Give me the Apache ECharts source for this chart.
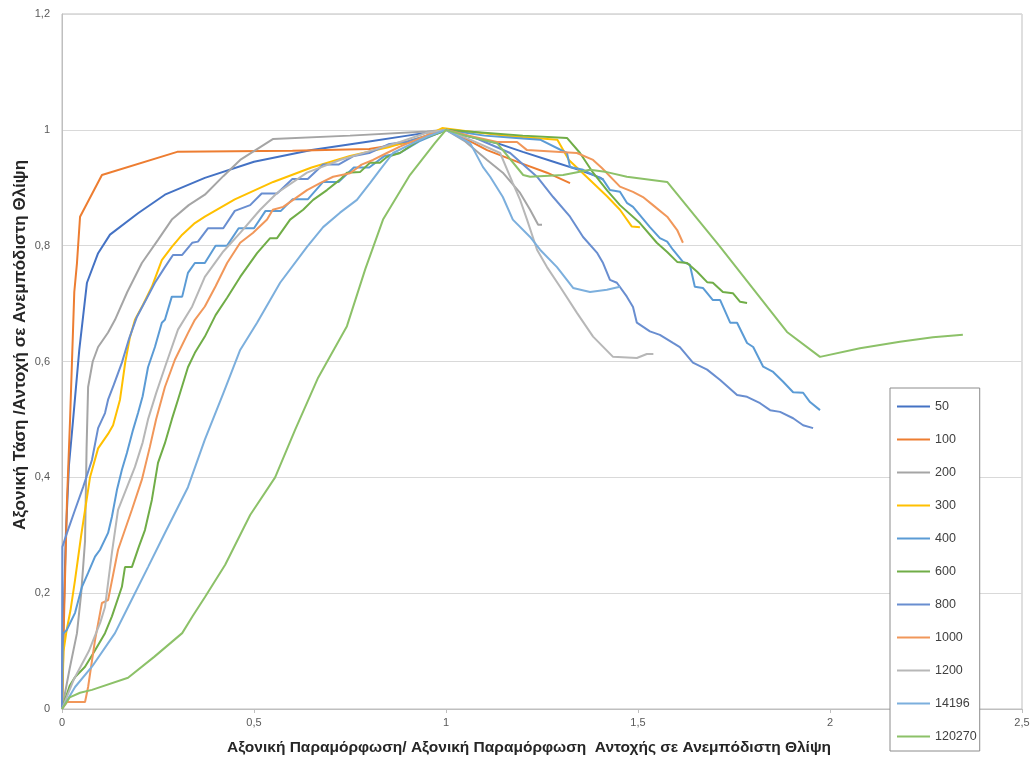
<!DOCTYPE html>
<html>
<head>
<meta charset="utf-8">
<script src="https://cdn.jsdelivr.net/npm/echarts@6/dist/echarts.min.js"></script>
<style>
html,body{margin:0;padding:0;background:#fff;}
#chart{width:1036px;height:764px;}
</style>
</head>
<body>
<div id="chart"></div>
<script>
// ---- Data (x = normalized axial strain, y = normalized axial stress) ----
const seriesNames = ['50','100','200','300','400','600','800','1000','1200','14196','120270'];
const xTicks = [0, 0.5, 1, 1.5, 2, 2.5];
const yTicks = [0, 0.2, 0.4, 0.6, 0.8, 1, 1.2];

const s50 = [[0,0],[0.004,0.15],[0.01,0.3],[0.018,0.42],[0.029,0.5],[0.045,0.62],[0.065,0.736],[0.094,0.787],[0.125,0.819],[0.198,0.856],[0.268,0.888],[0.372,0.917],[0.5,0.945],[0.65,0.965],[0.8,0.98],[0.9,0.99],[1.0,1.0],[1.05,0.99],[1.133,0.977],[1.2,0.962],[1.28,0.945],[1.35,0.93],[1.4,0.918],[1.41,0.914]];
const s100 = [[0,0],[0.005,0.15],[0.013,0.36],[0.021,0.5],[0.026,0.6],[0.032,0.72],[0.039,0.77],[0.047,0.85],[0.104,0.922],[0.3,0.962],[0.6,0.964],[0.8,0.967],[0.92,0.98],[1.0,1.0],[1.05,0.985],[1.107,0.965],[1.193,0.943],[1.263,0.926],[1.323,0.908]];
const s200 = [[0,0],[0.02,0.07],[0.039,0.131],[0.05,0.2],[0.06,0.29],[0.064,0.45],[0.068,0.556],[0.08,0.6],[0.094,0.625],[0.12,0.65],[0.138,0.672],[0.17,0.72],[0.208,0.77],[0.25,0.81],[0.286,0.845],[0.33,0.87],[0.372,0.888],[0.42,0.92],[0.464,0.948],[0.549,0.984],[0.75,0.99],[0.95,0.997],[1.0,1.0],[1.05,0.98],[1.107,0.948],[1.148,0.926],[1.193,0.891],[1.219,0.862],[1.24,0.836],[1.25,0.836]];
const s300 = [[0,0],[0.004,0.1],[0.012,0.136],[0.022,0.17],[0.034,0.223],[0.05,0.3],[0.073,0.4],[0.094,0.45],[0.12,0.475],[0.133,0.49],[0.151,0.534],[0.165,0.6],[0.177,0.642],[0.19,0.672],[0.211,0.698],[0.234,0.729],[0.26,0.775],[0.286,0.798],[0.313,0.819],[0.346,0.839],[0.372,0.85],[0.45,0.88],[0.55,0.91],[0.65,0.935],[0.75,0.955],[0.85,0.97],[0.95,0.99],[0.99,1.003],[1.05,0.998],[1.15,0.99],[1.29,0.983],[1.32,0.948],[1.366,0.919],[1.42,0.885],[1.453,0.862],[1.484,0.833],[1.505,0.832]];
const s400 = [[0,0],[0.002,0.13],[0.012,0.136],[0.034,0.166],[0.052,0.211],[0.068,0.235],[0.086,0.263],[0.099,0.275],[0.12,0.304],[0.13,0.332],[0.143,0.378],[0.156,0.413],[0.169,0.442],[0.185,0.482],[0.198,0.511],[0.21,0.54],[0.224,0.59],[0.242,0.625],[0.26,0.667],[0.268,0.672],[0.286,0.712],[0.313,0.712],[0.328,0.753],[0.346,0.77],[0.372,0.77],[0.4,0.8],[0.43,0.8],[0.46,0.83],[0.5,0.83],[0.53,0.86],[0.57,0.86],[0.6,0.88],[0.64,0.88],[0.68,0.91],[0.72,0.91],[0.76,0.935],[0.8,0.935],[0.84,0.955],[0.88,0.96],[0.93,0.98],[1.0,1.0],[1.1,0.99],[1.2,0.985],[1.245,0.983],[1.315,0.96],[1.323,0.936],[1.357,0.931],[1.409,0.914],[1.427,0.896],[1.453,0.893],[1.471,0.874],[1.487,0.867],[1.531,0.832],[1.557,0.813],[1.576,0.807],[1.591,0.793],[1.617,0.772],[1.635,0.767],[1.648,0.729],[1.669,0.727],[1.695,0.706],[1.714,0.706],[1.74,0.667],[1.758,0.667],[1.784,0.632],[1.8,0.625],[1.826,0.591],[1.852,0.582],[1.878,0.565],[1.904,0.547],[1.93,0.546],[1.948,0.53],[1.974,0.516]];
const s600 = [[0,0],[0.02,0.04],[0.034,0.055],[0.06,0.073],[0.085,0.1],[0.112,0.131],[0.13,0.16],[0.156,0.211],[0.164,0.245],[0.182,0.245],[0.2,0.28],[0.216,0.309],[0.234,0.361],[0.25,0.425],[0.268,0.459],[0.286,0.5],[0.302,0.534],[0.328,0.59],[0.346,0.615],[0.372,0.643],[0.4,0.68],[0.43,0.71],[0.464,0.746],[0.508,0.787],[0.542,0.813],[0.56,0.813],[0.594,0.845],[0.628,0.862],[0.654,0.879],[0.69,0.896],[0.724,0.914],[0.742,0.926],[0.776,0.927],[0.802,0.943],[0.828,0.943],[0.846,0.953],[0.88,0.96],[0.932,0.983],[0.984,0.995],[1.0,1.0],[1.1,0.995],[1.2,0.99],[1.315,0.986],[1.349,0.96],[1.383,0.926],[1.42,0.895],[1.453,0.87],[1.505,0.839],[1.549,0.805],[1.576,0.789],[1.602,0.772],[1.628,0.77],[1.654,0.755],[1.68,0.737],[1.695,0.736],[1.721,0.72],[1.747,0.718],[1.766,0.703],[1.784,0.701]];
const s800 = [[0,0],[0.001,0.28],[0.013,0.304],[0.034,0.344],[0.055,0.383],[0.078,0.43],[0.094,0.485],[0.112,0.511],[0.12,0.534],[0.135,0.56],[0.156,0.598],[0.175,0.64],[0.195,0.677],[0.216,0.703],[0.242,0.736],[0.268,0.763],[0.289,0.784],[0.313,0.784],[0.339,0.805],[0.354,0.807],[0.38,0.83],[0.42,0.83],[0.45,0.86],[0.49,0.87],[0.52,0.89],[0.56,0.89],[0.6,0.915],[0.64,0.915],[0.68,0.94],[0.72,0.94],[0.76,0.955],[0.8,0.96],[0.85,0.975],[0.9,0.98],[0.95,0.99],[1.0,1.0],[1.08,0.985],[1.167,0.96],[1.237,0.919],[1.279,0.884],[1.323,0.85],[1.357,0.815],[1.393,0.788],[1.409,0.77],[1.427,0.741],[1.445,0.736],[1.471,0.712],[1.487,0.694],[1.497,0.667],[1.531,0.652],[1.557,0.646],[1.591,0.632],[1.609,0.625],[1.643,0.598],[1.68,0.586],[1.714,0.568],[1.758,0.542],[1.784,0.539],[1.818,0.528],[1.844,0.516],[1.87,0.513],[1.904,0.502],[1.93,0.49],[1.956,0.485]];
const s1000 = [[0,0],[0.013,0.012],[0.06,0.012],[0.068,0.038],[0.086,0.119],[0.104,0.183],[0.12,0.188],[0.146,0.275],[0.182,0.344],[0.208,0.396],[0.229,0.453],[0.245,0.5],[0.268,0.556],[0.294,0.603],[0.328,0.649],[0.346,0.672],[0.372,0.695],[0.4,0.73],[0.43,0.77],[0.464,0.805],[0.497,0.822],[0.534,0.845],[0.549,0.862],[0.576,0.867],[0.602,0.879],[0.638,0.896],[0.672,0.908],[0.706,0.919],[0.75,0.925],[0.78,0.94],[0.81,0.948],[0.846,0.96],[0.88,0.971],[0.924,0.983],[0.966,0.995],[1.0,1.0],[1.06,0.99],[1.133,0.979],[1.185,0.979],[1.211,0.965],[1.341,0.96],[1.383,0.948],[1.406,0.934],[1.453,0.902],[1.487,0.893],[1.513,0.884],[1.539,0.87],[1.576,0.85],[1.602,0.827],[1.617,0.805]];
const s1200 = [[0,0],[0.03,0.05],[0.07,0.1],[0.1,0.15],[0.112,0.176],[0.13,0.27],[0.146,0.344],[0.19,0.418],[0.21,0.46],[0.224,0.5],[0.245,0.545],[0.268,0.59],[0.302,0.655],[0.339,0.695],[0.372,0.746],[0.42,0.79],[0.464,0.822],[0.516,0.862],[0.56,0.891],[0.638,0.926],[0.724,0.948],[0.81,0.965],[0.88,0.979],[0.95,0.995],[1.0,1.0],[1.063,0.983],[1.141,0.96],[1.174,0.908],[1.193,0.879],[1.211,0.845],[1.237,0.793],[1.263,0.763],[1.297,0.729],[1.341,0.684],[1.383,0.643],[1.435,0.608],[1.497,0.606],[1.523,0.613],[1.54,0.613]];
const s14196 = [[0,0],[0.034,0.038],[0.078,0.073],[0.138,0.131],[0.172,0.176],[0.224,0.245],[0.268,0.304],[0.328,0.383],[0.372,0.465],[0.42,0.545],[0.464,0.62],[0.508,0.667],[0.568,0.736],[0.638,0.798],[0.68,0.832],[0.724,0.857],[0.768,0.879],[0.802,0.908],[0.828,0.931],[0.862,0.96],[0.914,0.977],[0.95,0.988],[1.0,1.0],[1.063,0.977],[1.096,0.936],[1.115,0.919],[1.148,0.884],[1.174,0.845],[1.219,0.815],[1.245,0.793],[1.289,0.763],[1.331,0.727],[1.375,0.72],[1.419,0.724],[1.453,0.729]];
const s120270 = [[0,0],[0.02,0.02],[0.047,0.028],[0.078,0.033],[0.172,0.054],[0.24,0.09],[0.313,0.131],[0.34,0.16],[0.372,0.193],[0.425,0.249],[0.49,0.335],[0.555,0.4],[0.607,0.482],[0.667,0.572],[0.742,0.661],[0.79,0.76],[0.836,0.845],[0.906,0.922],[0.971,0.977],[1.0,1.0],[1.05,0.99],[1.133,0.977],[1.201,0.922],[1.219,0.919],[1.305,0.922],[1.375,0.931],[1.419,0.927],[1.471,0.919],[1.576,0.91],[1.714,0.798],[1.888,0.651],[1.974,0.608],[2.078,0.623],[2.182,0.634],[2.268,0.642],[2.346,0.646]];

const seriesData = [s50,s100,s200,s300,s400,s600,s800,s1000,s1200,s14196,s120270];
const colors = ['#4472C4','#ED7D31','#A5A5A5','#FFC000','#5B9BD5','#70AD47','#698ED0','#F1975A','#B7B7B7','#7CAFDD','#8CC168'];

const xTitle = 'Αξονική Παραμόρφωση/ Αξονική Παραμόρφωση  Αντοχής σε Ανεμπόδιστη Θλίψη';
const yTitle = 'Αξονική Τάση /Αντοχή σε Ανεμπόδιστη Θλίψη';

const fmt = v => String(v).replace('.', ',');
const FONT = '"Liberation Sans", Arial, sans-serif';

const chart = echarts.init(document.getElementById('chart'), null, {renderer:'canvas'});
chart.setOption({
  animation:false,
  backgroundColor:'#ffffff',
  color: colors,
  grid:{left:62, right:14, top:14, bottom:55, show:true, borderColor:'#bfbfbf', borderWidth:1, backgroundColor:'transparent'},
  xAxis:{
    type:'value', min:xTicks[0], max:xTicks[xTicks.length-1], interval:0.5,
    axisLine:{show:true, lineStyle:{color:'#bfbfbf', width:1}},
    axisTick:{show:true, length:4, lineStyle:{color:'#bfbfbf'}},
    splitLine:{show:false},
    axisLabel:{color:'#595959', fontSize:11, fontFamily:FONT, margin:8, formatter:fmt}
  },
  yAxis:{
    type:'value', min:yTicks[0], max:yTicks[yTicks.length-1], interval:0.2,
    axisLine:{show:true, lineStyle:{color:'#bfbfbf', width:1}},
    axisTick:{show:false},
    splitLine:{show:true, lineStyle:{color:'#d9d9d9', width:1}},
    axisLabel:{color:'#595959', fontSize:11, fontFamily:FONT, margin:12, formatter:fmt}
  },
  legend:{
    orient:'vertical', left:890, top:388,
    icon:'rect', itemWidth:33, itemHeight:2,
    padding:[12,3,8,7], itemGap:20,
    backgroundColor:'#ffffff', borderColor:'#8c8c8c', borderWidth:1,
    textStyle:{color:'#404040', fontSize:12.5, fontFamily:FONT},
    data: seriesNames, z:10
  },
  graphic:[
    {type:'text', x:529, y:748, z:20,
      style:{text:xTitle, font:'bold 15.5px '+FONT, fill:'#262626', align:'center', verticalAlign:'middle'}},
    {type:'text', x:20, y:345, rotation:Math.PI/2, z:20,
      style:{text:yTitle, font:'bold 17px '+FONT, fill:'#262626', align:'center', verticalAlign:'middle'}}
  ],
  series: seriesNames.map((n,i)=>({
    name:n, type:'line', data:seriesData[i], showSymbol:false, symbol:'none',
    lineStyle:{width:2, color:colors[i]}, itemStyle:{color:colors[i]}
  }))
});
</script>
</body>
</html>
